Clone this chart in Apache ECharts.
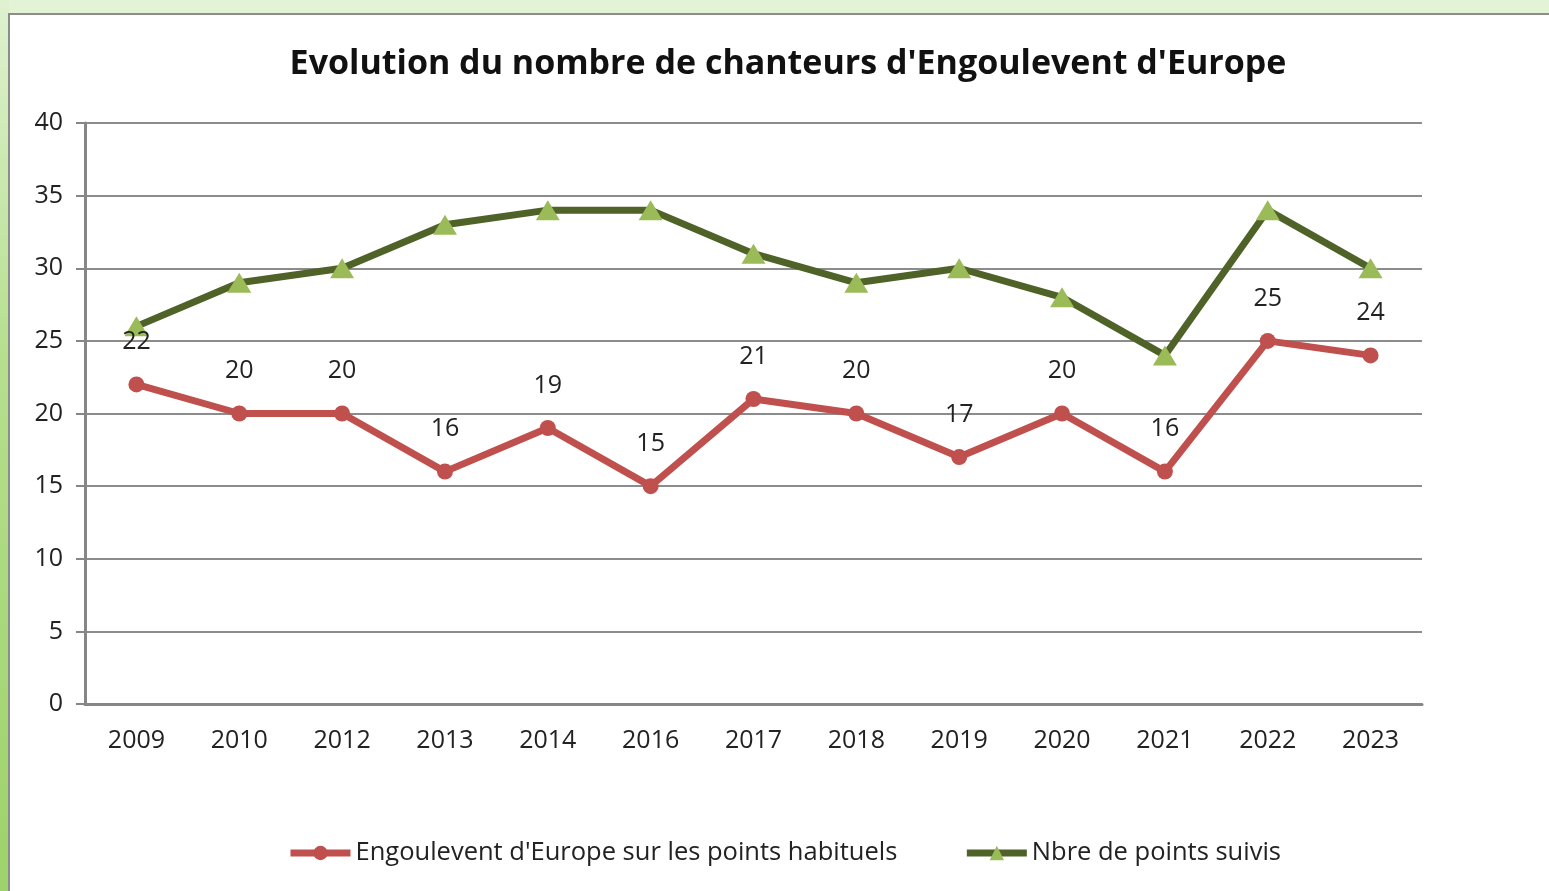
<!DOCTYPE html>
<html>
<head>
<meta charset="utf-8">
<script src="https://cdn.jsdelivr.net/npm/echarts@6/dist/echarts.min.js"></script>
<style>
  html, body { margin: 0; padding: 0; }
  body { width: 1549px; height: 891px; background: #e3f3d6; position: relative; overflow: hidden; }
  #strip { position: absolute; left: 0; top: 0; width: 9px; height: 891px;
           background: linear-gradient(#dff1d0, #b5df8e 40%, #9ed26a); }
  #box { position: absolute; left: 8px; top: 13px; width: 1545px; height: 885px;
         background: #fff; border: 2px solid #8c8c8c; box-sizing: border-box; }
  #main { position: absolute; left: 0; top: 0; width: 1549px; height: 891px; }
</style>
</head>
<body>
<div id="strip"></div>
<div id="box"></div>
<div id="main"></div>
<script>
// categories and values
var annees = ['2009', '2010', '2012', '2013', '2014', '2016', '2017', '2018', '2019', '2020', '2021', '2022', '2023'];
var chanteurs = [22, 20, 20, 16, 19, 15, 21, 20, 17, 20, 16, 25, 24];
var pointsSuivis = [26, 29, 30, 33, 34, 34, 31, 29, 30, 28, 24, 34, 30];

var police = '"Open Sans", sans-serif';

var chartDom = document.getElementById('main');
var myChart = echarts.init(chartDom);

var option = {
    animation: false,
    title: {
        text: "Evolution du nombre de chanteurs d'Engoulevent d'Europe",
        left: 783,
        textAlign: 'center',
        top: 42,
        textStyle: { fontFamily: police, fontSize: 34, fontWeight: 'bold', color: '#111' }
    },
    grid: { left: 85, top: 123, width: 1337, height: 581 },
    legend: {
        left: 282,
        top: 835,
        itemWidth: 60,
        itemHeight: 18,
        itemGap: 66,
        textStyle: { fontFamily: police, fontSize: 25.5, color: '#222' },
        data: [
            { name: "Engoulevent d'Europe sur les points habituels", lineStyle: { width: 7 } },
            { name: 'Nbre de points suivis', lineStyle: { width: 7 } }
        ]
    },
    xAxis: {
        type: 'category',
        data: annees,
        boundaryGap: true,
        axisLine: { lineStyle: { color: '#868686', width: 3 } },
        axisTick: { length: 9, lineStyle: { color: '#868686', width: 2 } },
        axisLabel: { fontFamily: police, fontSize: 25, color: '#222', margin: 24 }
    },
    yAxis: {
        type: 'value',
        min: 0,
        max: 40,
        interval: 5,
        axisLine: { show: true, lineStyle: { color: '#868686', width: 3 } },
        axisTick: { show: true, length: 9, lineStyle: { color: '#868686', width: 2 } },
        splitLine: { lineStyle: { color: '#8c8c8c', width: 2 } },
        axisLabel: { fontFamily: police, fontSize: 25, color: '#222', margin: 22 }
    },
    series: [
        {
            name: "Engoulevent d'Europe sur les points habituels",
            type: 'line',
            data: chanteurs,
            symbol: 'circle',
            symbolSize: 16,
            lineStyle: { color: '#c0504d', width: 7 },
            itemStyle: { color: '#c0504d' },
            label: {
                show: true,
                position: 'top',
                distance: 22,
                fontFamily: police,
                fontSize: 25,
                color: '#222'
            },
            z: 3
        },
        {
            name: 'Nbre de points suivis',
            type: 'line',
            data: pointsSuivis,
            symbol: 'triangle',
            symbolSize: [24, 20],
            lineStyle: { color: '#4f6228', width: 7 },
            itemStyle: { color: '#9bbb59' },
            z: 2
        }
    ]
};

option && myChart.setOption(option);
</script>
</body>
</html>
